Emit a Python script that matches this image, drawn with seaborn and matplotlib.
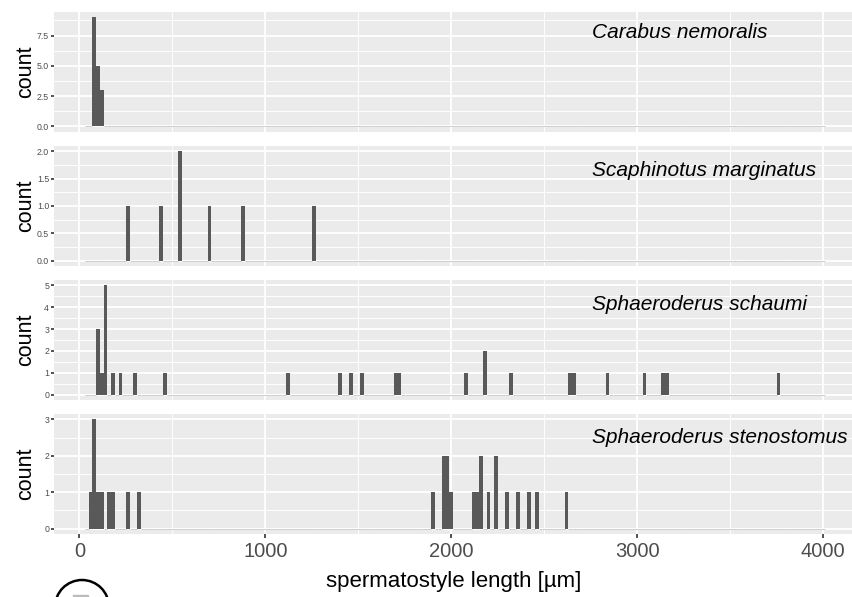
import numpy as np
import pandas as pd
import seaborn as sns
import matplotlib.pyplot as plt
from matplotlib.patches import Ellipse, Rectangle
from matplotlib.ticker import MultipleLocator

species = ["Carabus nemoralis", "Scaphinotus marginatus",
           "Sphaeroderus schaumi", "Sphaeroderus stenostomus"]

# bin centres (µm) and counts (binwidth 20)
carabus_len = [80, 100, 120]
carabus_n = [9, 5, 3]
scaph_len = [260, 440, 540, 700, 880, 1260]
scaph_n = [1, 1, 2, 1, 1, 1]
schaumi_len = [100, 120, 140, 180, 220, 300, 460, 1120, 1400, 1460, 1520,
               1700, 1720, 2080, 2180, 2320, 2640, 2660, 2840, 3040, 3140,
               3160, 3760]
schaumi_n = [3, 1, 5, 1, 1, 1, 1, 1, 1, 1, 1,
             1, 1, 1, 2, 1, 1, 1, 1, 1, 1,
             1, 1]
steno_len = [60, 80, 100, 120, 160, 180, 260, 320, 1900, 1960, 1980, 2000,
             2120, 2140, 2160, 2200, 2240, 2300, 2360, 2420, 2460, 2620]
steno_n = [1, 3, 1, 1, 1, 1, 1, 1, 1, 2, 2, 1,
           1, 1, 2, 1, 2, 1, 1, 1, 1, 1]

yticks = [[0, 2.5, 5, 7.5], [0, 0.5, 1, 1.5, 2], [0, 1, 2, 3, 4, 5], [0, 1, 2, 3]]
ytick_labels = [["0.0", "2.5", "5.0", "7.5"], ["0.0", "0.5", "1.0", "1.5", "2.0"],
                ["0", "1", "2", "3", "4", "5"], ["0", "1", "2", "3"]]
xticks = [0, 1000, 2000, 3000, 4000]

panels = [(carabus_len, carabus_n), (scaph_len, scaph_n),
          (schaumi_len, schaumi_n), (steno_len, steno_n)]

sns.set_style("darkgrid", {"axes.facecolor": "#EBEBEB", "grid.color": "white"})
plt.rcParams['font.family'] = ['Liberation Sans', 'DejaVu Sans']

fig, axes = plt.subplots(4, 1, figsize=(8.53, 5.97), dpi=100, sharex=True)
fig.subplots_adjust(left=0.0633, right=1.0, top=0.98, bottom=0.1055, hspace=0.1167)

label_y = [0.787, 0.75, 0.75, 0.761]

for i, (ax, (lens, counts)) in enumerate(zip(axes, panels)):
    df = pd.DataFrame({"length": lens, "n": counts})
    sns.histplot(data=df, x="length", weights="n", binwidth=20, binrange=(30, 4010),
                 color="#595959", alpha=1, edgecolor="none", linewidth=0, ax=ax)
    # empty bins show up as a faint baseline, like ggplot
    for p in ax.patches:
        if p.get_height() == 0:
            p.set_edgecolor("#c4c4c4")
            p.set_linewidth(0.6)
    ymax = max(counts)
    ax.set_ylim(-0.05 * ymax, 1.05 * ymax)
    ax.set_xlim(-137, 4161)
    ax.set_yticks(yticks[i])
    ax.set_yticklabels(ytick_labels[i])
    step = yticks[i][1] - yticks[i][0]
    ax.yaxis.set_minor_locator(MultipleLocator(step / 2))
    ax.xaxis.set_minor_locator(MultipleLocator(500))
    ax.grid(which="major", color="white", lw=1.3)
    ax.grid(which="minor", color="white", lw=0.65)
    ax.tick_params(which="minor", length=0)
    ax.tick_params(axis="y", left=True, length=2, width=1.2, color="#333333",
                   labelsize=6.3, labelcolor="#4D4D4D", pad=1.5)
    for s in ax.spines.values():
        s.set_visible(False)
    ax.text(2755, label_y[i], species[i], transform=ax.get_xaxis_transform(),
            fontsize=15, style="italic", color="black", ha="left", va="baseline")
    ax.set_xlabel("")
    ax.set_ylabel("count", fontsize=15.5, color="black")
    ax.yaxis.set_label_coords(-0.022, 0.5)
    if i < 3:
        ax.tick_params(axis="x", bottom=False)

ax = axes[-1]
ax.set_xticks(xticks)
ax.tick_params(axis="x", bottom=True, length=3, width=1.2, color="#333333",
               labelsize=14.5, labelcolor="#4D4D4D", pad=3)
ax.set_xlabel("spermatostyle length [µm]", fontsize=16, color="black", labelpad=7)

# badge at the bottom left corner
fig.patches.append(Ellipse((82 / 853, -10 / 597), 54 / 853, 54 / 597, fill=False,
                           lw=1.8, ec="black", transform=fig.transFigure))
fig.patches.append(Rectangle((73 / 853, 0), 15 / 853, 2 / 597, color="#bbbbbb",
                             transform=fig.transFigure))

plt.savefig("out.png", dpi=100)
